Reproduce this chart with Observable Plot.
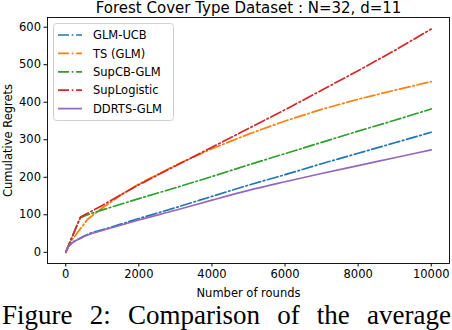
<!DOCTYPE html>
<html>
<head>
<meta charset="utf-8">
<script src="https://cdn.jsdelivr.net/npm/d3@7"></script>
<script src="https://cdn.jsdelivr.net/npm/@observablehq/plot@0.6"></script>
<style>
  html, body { margin: 0; padding: 0; background: #fff; overflow: hidden; }
  #wrap { width: 452px; }
  #caption {
    font-family: "Liberation Serif", "Times New Roman", serif;
    font-size: 27px; line-height: 30px; height: 30px;
    width: 449px; padding-left: 2px;
    text-align: justify; text-align-last: justify; white-space: nowrap; overflow: hidden;
  }
</style>
</head>
<body>
<div id="wrap"><div id="chart"></div><div id="caption">Figure 2: Comparison of the average</div></div>
<script>
const title = "Forest Cover Type Dataset : N=32, d=11";
const xLabel = "Number of rounds";
const yLabel = "Cumulative Regrets";
const seriesNames = ["GLM-UCB", "TS (GLM)", "SupCB-GLM", "SupLogistic", "DDRTS-GLM"];
const seriesColors = ["#1f77b4", "#ff7f0e", "#2ca02c", "#d62728", "#9467bd"];
const xTicks = [0, 2000, 4000, 6000, 8000, 10000];
const yTicks = [0, 100, 200, 300, 400, 500, 600];

const rounds      = [0, 50, 150, 400, 600, 1000, 1500, 2000, 3000, 4000, 5000, 6000, 7000, 8000, 9000, 10000];
const glmUcb      = [0, 12, 23, 38, 48, 60, 75, 90, 119, 149, 179, 207, 236, 264, 292, 320];
const tsGlm       = [0, 10, 30, 63, 88, 118, 152, 182, 232, 276, 315, 350, 381, 408, 432, 455];
const supCbGlm    = [0, 12, 36, 92, 100, 113, 128, 143, 172, 202, 233, 263, 293, 323, 352, 382];
const supLogistic = [0, 12, 36, 94, 104, 125, 153, 180, 230, 280, 330, 380, 432, 484, 538, 595];
const ddrtsGlm    = [0, 12, 23, 37, 46, 58, 72, 86, 112, 139, 165, 188, 210, 231, 252, 273];

const seriesValues = [glmUcb, tsGlm, supCbGlm, supLogistic, ddrtsGlm];
const dashes = ["11,2.7,1.7,2.7", "11,2.7,1.7,2.7", "11,2.7,1.7,2.7", "11,2.7,1.7,2.7", null];
const curves = ["monotone-x", "linear", "linear", "linear", "monotone-x"];

const lineMarks = seriesNames.map((name, i) => {
  const rows = rounds.map((r, j) => ({round: r, value: seriesValues[i][j], series: name}));
  const opts = {x: "round", y: "value", stroke: seriesColors[i], strokeWidth: 1.7, curve: curves[i]};
  if (dashes[i]) opts.strokeDasharray = dashes[i];
  return Plot.line(rows, opts);
});

const chart = Plot.plot({
  width: 452,
  height: 300,
  marginTop: 17,
  marginBottom: 37,
  marginLeft: 47,
  marginRight: 3,
  style: {fontFamily: "DejaVu Sans", fontSize: "11.5px", color: "black", background: "white"},
  x: {domain: [-500, 10500]},
  y: {domain: [-29.8, 625.8]},
  marks: [
    Plot.axisX({ticks: xTicks, tickSize: 3.5, tickPadding: 3, tickFormat: d => String(d), label: xLabel, labelAnchor: "center", labelArrow: "none", labelOffset: 33, fontSize: 11.5}),
    Plot.axisY({ticks: yTicks, tickSize: 3.5, tickPadding: 3, tickFormat: d => String(d), label: yLabel, labelAnchor: "center", labelArrow: "none", labelOffset: 44, fontSize: 11.5}),
    ...lineMarks,
    Plot.frame({stroke: "black", strokeWidth: 0.9}),
    Plot.text([title], {frameAnchor: "top", dy: -5, lineAnchor: "bottom", fontSize: 15, fill: "black"})
  ]
});
document.getElementById("chart").appendChild(chart);

// legend
const svg = d3.select(chart);
const lg = svg.append("g").attr("font-family", "DejaVu Sans").attr("font-size", "11.5px").attr("text-anchor", "start");
lg.append("rect").attr("x", 53.5).attr("y", 23.5).attr("width", 120).attr("height", 97).attr("rx", 3)
  .attr("fill", "white").attr("fill-opacity", 0.8).attr("stroke", "#cccccc").attr("stroke-width", 0.9);
seriesNames.forEach((name, i) => {
  const y = 35 + i * 18.4;
  const ln = lg.append("line").attr("x1", 58).attr("x2", 82).attr("y1", y).attr("y2", y)
    .attr("stroke", seriesColors[i]).attr("stroke-width", 1.7);
  if (dashes[i]) ln.attr("stroke-dasharray", dashes[i]);
  lg.append("text").attr("x", 93).attr("y", y).attr("dy", "0.36em").attr("fill", "black")
    .attr("text-anchor", "start").text(name);
});
</script>
</body>
</html>
